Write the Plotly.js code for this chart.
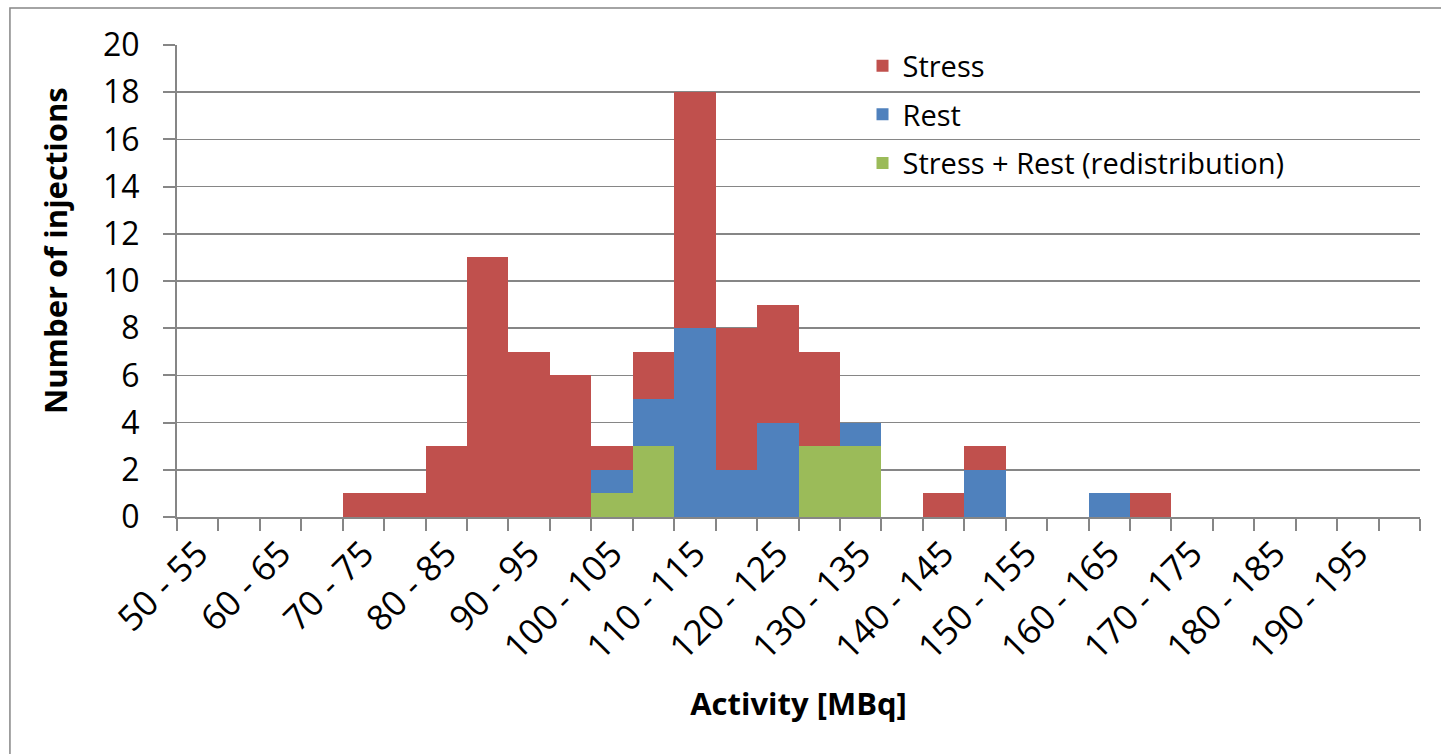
<!DOCTYPE html>
<html>
<head>
<meta charset="utf-8">
<script src="https://cdn.plot.ly/plotly-3.0.1.min.js"></script>
<style>html,body{margin:0;padding:0;background:#fff;}#chart{width:1441px;height:754px;}</style>
</head>
<body>
<div id="chart"></div>
<script>
var categories = ["50 - 55","55 - 60","60 - 65","65 - 70","70 - 75","75 - 80","80 - 85","85 - 90","90 - 95","95 - 100",
  "100 - 105","105 - 110","110 - 115","115 - 120","120 - 125","125 - 130","130 - 135","135 - 140","140 - 145","145 - 150",
  "150 - 155","155 - 160","160 - 165","165 - 170","170 - 175","175 - 180","180 - 185","185 - 190","190 - 195","195 - 200"];
var tickLabels = ["50 - 55","","60 - 65","","70 - 75","","80 - 85","","90 - 95","",
  "100 - 105","","110 - 115","","120 - 125","","130 - 135","","140 - 145","",
  "150 - 155","","160 - 165","","170 - 175","","180 - 185","","190 - 195",""];
var stressRest = [0,0,0,0,0,0,0,0,0,0, 1,3,0,0,0,3,3,0,0,0, 0,0,0,0,0,0,0,0,0,0];
var rest       = [0,0,0,0,0,0,0,0,0,0, 1,2,8,2,4,0,1,0,0,2, 0,0,1,0,0,0,0,0,0,0];
var stress     = [0,0,0,0,1,1,3,11,7,6, 1,2,10,6,5,4,0,0,1,1, 0,0,0,1,0,0,0,0,0,0];

var FONT = "Open Sans, sans-serif";
var GRAY = "#868686";

function tr(name, vals, color, grp, rank) {
  return {type: "bar", name: name, x: categories, y: vals, legendgroup: grp, legendrank: rank,
    marker: {color: color, line: {width: 0}}, hoverinfo: "skip"};
}
var data = [
  tr("Stress + Rest (redistribution)", stressRest, "#9BBB59", "g3", 3),
  tr("Rest", rest, "#4F81BD", "g2", 2),
  tr("Stress", stress, "#C0504D", "g1", 1)
];

var layout = {
  width: 1441, height: 754,
  margin: {l: 177, r: 21, t: 45, b: 237},
  paper_bgcolor: "#fff", plot_bgcolor: "#fff",
  barmode: "stack", bargap: 0,
  font: {family: FONT, color: "#000"},
  showlegend: true,
  legend: {x: 0.5515, y: 1.01, xanchor: "left", yanchor: "top", traceorder: "grouped",
    tracegroupgap: 8, font: {family: FONT, size: 29, color: "#000"}, bgcolor: "rgba(0,0,0,0)"},
  xaxis: {
    type: "category", categoryorder: "array", categoryarray: categories,
    tickmode: "array", tickvals: categories, ticktext: tickLabels,
    tickson: "boundaries", ticks: "outside", ticklen: 12, tickwidth: 2, tickcolor: GRAY,
    tickangle: -45, tickfont: {family: FONT, size: 35, color: "#000"},
    showline: true, linecolor: GRAY, linewidth: 2, showgrid: false, zeroline: false,
    title: {text: "<b>Activity [MBq]</b>", font: {family: FONT, size: 31, color: "#000"}, standoff: 26}
  },
  yaxis: {
    range: [0, 20], dtick: 2, tick0: 0,
    ticks: "outside", ticklen: 12, tickwidth: 2, tickcolor: GRAY, ticklabelstandoff: 17,
    tickfont: {family: FONT, size: 32, color: "#000"},
    showline: true, linecolor: GRAY, linewidth: 2,
    showgrid: true, gridcolor: GRAY, gridwidth: 1.5, zeroline: false
  },
  annotations: [{
    text: "<b>Number of injections</b>", textangle: -90, showarrow: false,
    xref: "paper", yref: "paper", x: (55 - 177) / 1243, y: (517 - 251) / 472,
    xanchor: "center", yanchor: "middle",
    font: {family: FONT, size: 31, color: "#000"}
  }],
  shapes: [{type: "rect", xref: "paper", yref: "paper",
    x0: -0.1344, x1: 1.03, y0: -0.55, y1: 1.0784,
    line: {color: GRAY, width: 1.5}, fillcolor: "rgba(0,0,0,0)", layer: "below"}]
};

Plotly.newPlot("chart", data, layout, {displayModeBar: false, staticPlot: true});
</script>
</body>
</html>
